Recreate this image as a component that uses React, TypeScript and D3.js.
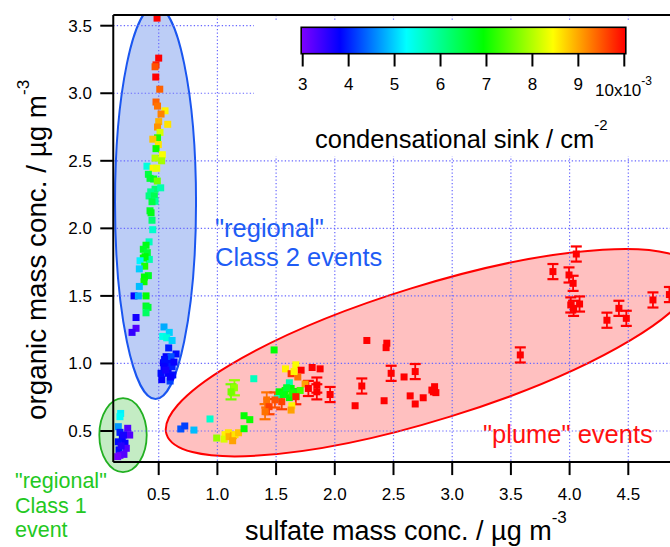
import React from 'react';
import * as d3 from 'd3';

const W = 670;
const H = 547;
const FONT = "'Liberation Sans', Arial, Helvetica, sans-serif";

const xTicks = [0.5, 1.0, 1.5, 2.0, 2.5, 3.0, 3.5, 4.0, 4.5];
const yTicks = [0.5, 1.0, 1.5, 2.0, 2.5, 3.0, 3.5];
const csTicks = [3, 4, 5, 6, 7, 8, 9, 10];
const csStops = [3, 3.84, 5.27, 6.93, 8.43, 10];
const csColors = ['#8000ff', '#0000ff', '#00ffff', '#00ff00', '#ffff00', '#ff0000'];

// [sulfate, organic, condensational sink x1e-3]
const class2Points = [
  [0.486, 3.556, 10], [0.5, 3.26, 10], [0.477, 3.21, 9.8], [0.469, 3.196, 9.5], [0.475, 3.12, 10],
  [0.509, 3.03, 9.4], [0.477, 2.935, 9.4], [0.49, 2.905, 9.3], [0.554, 2.87, 8.5], [0.52, 2.846, 9.2],
  [0.5, 2.79, 8.9], [0.577, 2.77, 8.6], [0.49, 2.75, 9.1], [0.511, 2.71, 8.2], [0.49, 2.67, 7.1],
  [0.45, 2.66, 8.8], [0.497, 2.62, 8.6], [0.477, 2.59, 7.0], [0.531, 2.545, 8.4], [0.469, 2.52, 8.0],
  [0.525, 2.5, 7.9], [0.4, 2.46, 5.5], [0.452, 2.445, 8.5], [0.483, 2.445, 8.3], [0.412, 2.4, 6.5],
  [0.426, 2.37, 6.6], [0.457, 2.365, 6.7], [0.488, 2.35, 7.6], [0.469, 2.29, 6.2], [0.517, 2.3, 5.8],
  [0.432, 2.27, 6.0], [0.418, 2.24, 6.1], [0.463, 2.24, 6.4], [0.469, 2.2, 5.9], [0.443, 2.197, 6.5],
  [0.426, 2.13, 6.7], [0.435, 2.115, 6.8], [0.443, 2.06, 6.2], [0.449, 1.99, 5.6], [0.418, 1.9, 5.7],
  [0.392, 1.875, 6.8], [0.369, 1.845, 6.7], [0.403, 1.82, 6.6], [0.42, 1.77, 5.8], [0.369, 1.78, 6.9],
  [0.384, 1.79, 6.9], [0.341, 1.76, 5.2], [0.381, 1.72, 7.1], [0.335, 1.7, 5.0], [0.412, 1.65, 6.7],
  [0.378, 1.64, 6.9], [0.375, 1.605, 7.0], [0.335, 1.57, 4.9], [0.29, 1.5, 3.8], [0.327, 1.5, 4.8],
  [0.392, 1.5, 6.9], [0.392, 1.425, 6.7], [0.409, 1.415, 6.6], [0.392, 1.375, 6.3], [0.307, 1.34, 3.7],
  [0.307, 1.26, 3.3], [0.273, 1.23, 3.5], [0.545, 1.27, 4.8], [0.59, 1.23, 5.0], [0.534, 1.2, 5.4],
  [0.568, 1.19, 5.5], [0.614, 1.17, 5.0], [0.585, 1.115, 4.0], [0.563, 1.05, 3.8], [0.648, 1.07, 3.9],
  [0.605, 1.05, 4.3], [0.54, 1.005, 3.8], [0.585, 1.0, 3.9], [0.614, 0.976, 4.0], [0.545, 0.976, 3.8],
  [0.52, 0.927, 3.9], [0.58, 0.927, 3.8], [0.62, 0.915, 3.9], [0.526, 0.88, 3.8], [0.597, 0.87, 4.2],
  [0.56, 0.95, 3.7], [0.6, 0.9, 3.8], [0.55, 1.03, 3.9], [0.63, 1.01, 3.8],
];

const class1Points = [
  [0.176, 0.63, 5.2], [0.17, 0.606, 5.3], [0.156, 0.532, 4.7], [0.17, 0.49, 4.0], [0.236, 0.52, 3.3],
  [0.253, 0.47, 3.3], [0.19, 0.446, 3.8], [0.213, 0.41, 3.8], [0.156, 0.42, 3.9], [0.224, 0.372, 3.3],
  [0.162, 0.36, 3.9], [0.17, 0.32, 3.2], [0.204, 0.327, 3.3], [0.151, 0.31, 3.1], [0.18, 0.39, 3.6],
  [0.2, 0.47, 3.7],
];

const plumePoints = [
  [0.688, 0.515, 4.3], [0.722, 0.537, 4.2], [0.8, 0.507, 4.9], [0.937, 0.589, 5.6], [0.994, 0.448, 7.8],
  [1.065, 0.473, 8.5], [1.094, 0.487, 8.6], [1.057, 0.44, 8.2], [1.1, 0.458, 8.9], [1.136, 0.465, 9.0],
  [1.15, 0.473, 8.6], [1.18, 0.487, 8.8], [1.13, 0.428, 9.0], [1.227, 0.613, 6.9], [1.276, 0.584, 7.0],
  [1.227, 0.517, 6.9], [1.483, 1.1, 6.9], [1.31, 0.887, 5.7],
  [1.668, 0.99, 8.4], [1.58, 0.96, 8.5], [1.713, 0.95, 10], [1.807, 0.97, 10], [1.875, 0.96, 10],
  [1.628, 0.924, 9.7], [1.685, 0.9, 9.3], [1.653, 0.94, 8.5], [1.747, 0.848, 9.0], [1.526, 0.79, 6.9],
  [1.577, 0.8, 7.0], [1.613, 0.857, 5.8], [1.628, 0.815, 6.9], [1.662, 0.79, 6.8], [1.51, 0.74, 5.6],
  [1.613, 0.747, 6.9], [1.67, 0.756, 7.0], [1.705, 0.8, 7.3], [1.634, 0.687, 8.5], [1.628, 0.655, 9.0],
  [1.56, 0.77, 6.8], [1.59, 0.82, 6.6], [1.64, 0.78, 7.1],
  [2.273, 1.17, 10], [2.443, 1.15, 10], [2.437, 1.117, 10], [2.173, 0.687, 10], [2.42, 0.724, 10],
  [2.59, 0.9, 10], [2.642, 0.76, 10], [2.685, 0.7, 10], [2.753, 0.746, 10], [2.827, 0.803, 10],
  [2.85, 0.828, 10], [2.861, 0.784, 10], [2.84, 0.79, 10],
];

const plumeErrPoints = [
  [1.145, 0.82, 7.8], [1.116, 0.79, 7.6],
  [1.42, 0.73, 9.3], [1.44, 0.68, 9.6], [1.406, 0.643, 9.3], [1.548, 0.717, 9.6], [1.49, 0.73, 9.5],
  [1.668, 0.754, 9.8], [1.775, 0.815, 10], [1.847, 0.84, 10], [1.847, 0.79, 10], [1.96, 0.77, 10],
  [2.23, 0.833, 10], [2.48, 0.927, 10], [2.685, 0.94, 10], [3.58, 1.063, 10], [3.858, 1.68, 10],
  [3.995, 1.655, 10], [4.03, 1.593, 10], [4.057, 1.81, 10], [4.01, 1.433, 10], [4.034, 1.408, 10],
  [4.085, 1.44, 10], [4.318, 1.32, 10], [4.42, 1.408, 10], [4.483, 1.334, 10], [4.71, 1.47, 10],
  [4.85, 1.51, 10],
];
const errHalf = 0.056;

export default function App() {
  const x = d3.scaleLinear().domain([0.5, 4.5]).range([158.7, 628.3]);
  const y = d3.scaleLinear().domain([0.5, 3.5]).range([431, 25.7]);
  const csX = d3.scaleLinear().domain([3, 10]).range([302.7, 624.3]);
  const color = d3.scaleLinear<string>().domain(csStops).range(csColors).interpolate(d3.interpolateRgb).clamp(true);

  const left = x(0.113), right = x(4.95), top = y(3.58), bottom = y(0.27);
  const sq = 7;
  const grid = { stroke: '#6868ff', strokeWidth: 1.2, strokeDasharray: '1.3,2.2' };

  const allSquares = [...class2Points, ...class1Points, ...plumePoints, ...plumeErrPoints];
  const gradId = 'csgrad';

  return (
    <svg width={W} height={H} style={{ position: 'absolute', left: 0, top: 0, background: '#fff' }} fontFamily={FONT}>
      <defs>
        <clipPath id="plotclip">
          <rect x={left} y={top} width={right - left} height={bottom - top} />
        </clipPath>
        <linearGradient id={gradId} x1="0" x2="1" y1="0" y2="0">
          {csStops.map((s, i) => (
            <stop key={i} offset={(s - 3) / 7} stopColor={csColors[i]} />
          ))}
        </linearGradient>
      </defs>

      {/* ellipses */}
      <g clipPath="url(#plotclip)">
        <ellipse cx={x(0.473)} cy={y(2.191)} rx={40.5} ry={196.5} fill="#bccdf6" stroke="#1a56f0" strokeWidth={2} />
      </g>
      <ellipse cx={0} cy={0} rx={276} ry={67}
        transform={`translate(${x(2.8125)},${y(1.08)}) rotate(-17.2)`}
        fill="#ffc0c0" stroke="#ff0000" strokeWidth={2} />
      <ellipse cx={x(0.196)} cy={y(0.47)} rx={23.7} ry={37} fill="#c4ecc4" stroke="#22b022" strokeWidth={1.8} />

      {/* grid */}
      {xTicks.map((t) => (
        <line key={'gx' + t} x1={x(t)} x2={x(t)} y1={top} y2={bottom} {...grid} />
      ))}
      {yTicks.map((t) => (
        <line key={'gy' + t} x1={left} x2={right} y1={y(t)} y2={y(t)} {...grid} />
      ))}

      {/* legend background */}
      <rect x={254} y={22} width={W - 254} height={134} fill="#fff" />

      {/* error bars */}
      {plumeErrPoints.map((p, i) => {
        const c = color(p[2]);
        const cx = x(p[0]);
        const y1 = y(p[1] + errHalf), y2 = y(p[1] - errHalf);
        return (
          <g key={'e' + i} stroke={c}>
            <line x1={cx} x2={cx} y1={y1} y2={y2} strokeWidth={1.8} />
            <line x1={cx - 5.5} x2={cx + 5.5} y1={y1} y2={y1} strokeWidth={2.2} />
            <line x1={cx - 5.5} x2={cx + 5.5} y1={y2} y2={y2} strokeWidth={2.2} />
          </g>
        );
      })}

      {/* squares */}
      {allSquares.map((p, i) => (
        <rect key={'s' + i} x={x(p[0]) - sq / 2} y={y(p[1]) - sq / 2} width={sq} height={sq} fill={color(p[2])} />
      ))}

      {/* frame & axes */}
      <g stroke="#000" strokeWidth={2} fill="none">
        <line x1={left} x2={W + 5} y1={top} y2={top} />
        <line x1={left} x2={left} y1={top} y2={bottom} />
        <line x1={left} x2={W + 5} y1={bottom} y2={bottom} />
        {xTicks.map((t) => (
          <line key={'tx' + t} x1={x(t)} x2={x(t)} y1={bottom} y2={bottom + 13} />
        ))}
        {yTicks.map((t) => (
          <line key={'ty' + t} x1={left - 13} x2={left} y1={y(t)} y2={y(t)} />
        ))}
      </g>
      <g fontSize={17} fill="#000">
        {xTicks.map((t) => (
          <text key={'lx' + t} x={x(t)} y={500} textAnchor="middle">{t.toFixed(1)}</text>
        ))}
        {yTicks.map((t) => (
          <text key={'ly' + t} x={92} y={y(t) + 6} textAnchor="end">{t.toFixed(1)}</text>
        ))}
      </g>

      {/* colorbar */}
      <rect x={csX(3) - 1.5} y={27.3} width={csX(10) - csX(3) + 3} height={26.4} fill={`url(#${gradId})`} stroke="#000" strokeWidth={1.6} />
      <g stroke="#000" strokeWidth={2}>
        {csTicks.map((t) => (
          <line key={'ct' + t} x1={csX(t)} x2={csX(t)} y1={54} y2={66.5} />
        ))}
      </g>
      <g fontSize={17} fill="#000">
        {csTicks.slice(0, 7).map((t) => (
          <text key={'cl' + t} x={csX(t)} y={89.5} textAnchor="middle">{t}</text>
        ))}
        <text x={595} y={96}>10x10<tspan dy={-11} fontSize={12}>-3</tspan></text>
      </g>
      <text x={315} y={148} fontSize={25.5} fill="#000">condensational sink / cm<tspan dy={-18} fontSize={15}>-2</tspan></text>

      {/* annotations */}
      <g fontSize={25.5} fill="#1e5cf5">
        <text x={215} y={237}>"regional"</text>
        <text x={215} y={266}>Class 2 events</text>
      </g>
      <text x={483} y={443} fontSize={25.5} fill="#ff1010">"plume" events</text>
      <g fontSize={21.5} fill="#22c822">
        <text x={15} y={488}>"regional"</text>
        <text x={15} y={512.5}>Class 1</text>
        <text x={15} y={537}>event</text>
      </g>

      {/* axis titles */}
      <text x={245} y={540} fontSize={27} fill="#000">sulfate mass conc. / µg m<tspan dy={-17} fontSize={17}>-3</tspan></text>
      <text transform={`translate(46,420) rotate(-90)`} fontSize={27.8} fill="#000">organic mass conc. / µg m<tspan dy={-17} fontSize={17}>-3</tspan></text>
    </svg>
  );
}
